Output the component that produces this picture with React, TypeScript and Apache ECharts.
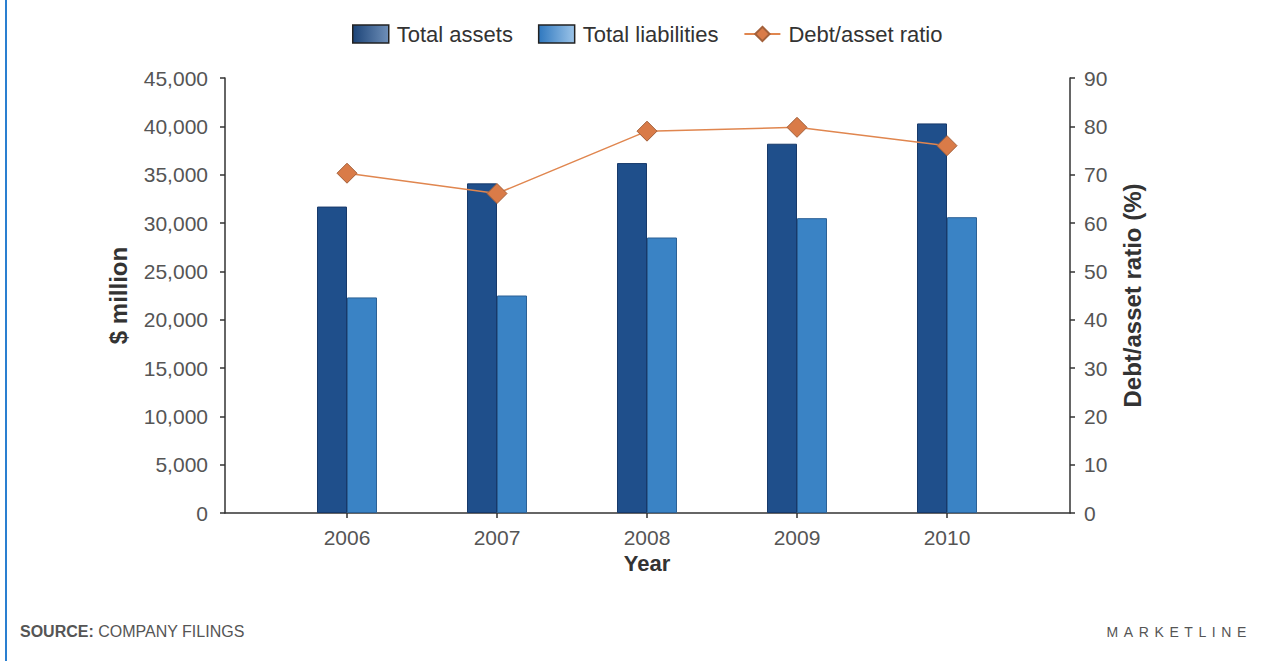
import React, { useEffect, useRef } from "react";
import * as echarts from "echarts";

// Chart data
const years = ["2006", "2007", "2008", "2009", "2010"];
const totalAssets = [31700, 34100, 36200, 38200, 40300];
const totalLiabilities = [22300, 22500, 28500, 30500, 30600];
const debtAssetRatio = [70.3, 66.1, 79.0, 79.8, 76.0];

// Axis scales
const leftMax = 45000;
const leftInterval = 5000;
const rightMax = 90;
const rightInterval = 10;

const FONT = "'Liberation Sans', Arial, Helvetica, sans-serif";
const AXIS_COLOR = "#333";
const LABEL_COLOR = "#555";

const ASSETS_COLOR = "#1f4f8b";
const LIAB_COLOR = "#3a83c5";
const LINE_COLOR = "#e0864f";

export default function App() {
  const ref = useRef<HTMLDivElement>(null);

  useEffect(() => {
    if (!ref.current) return;
    const chart = echarts.init(ref.current, undefined, { renderer: "svg" });

    const grad = (a: string, b: string) =>
      new echarts.graphic.LinearGradient(0, 0, 1, 0, [
        { offset: 0, color: a },
        { offset: 1, color: b },
      ]);

    const gridTop = 78;
    const gridBottom = 148;

    chart.setOption({
      animation: false,
      textStyle: { fontFamily: FONT },
      legend: {
        left: 347,
        top: 18,
        itemWidth: 36,
        itemHeight: 18,
        itemGap: 25,
        textStyle: {
          fontSize: 22,
          color: "#333",
          fontFamily: FONT,
          padding: [0, 0, 0, 3],
        },
        data: [
          {
            name: "Total assets",
            icon: "rect",
            itemStyle: {
              color: grad("#1c4478", "#6f8fb8"),
              borderColor: "#222",
              borderWidth: 1.5,
            },
          },
          {
            name: "Total liabilities",
            icon: "rect",
            itemStyle: {
              color: grad("#2f78bf", "#9cc4e8"),
              borderColor: "#222",
              borderWidth: 1.5,
            },
          },
          { name: "Debt/asset ratio" },
        ],
      },
      grid: [
        // frame grid: axis lines span the full plot width
        { left: 225, right: 191, top: gridTop, bottom: gridBottom },
        // data grid: categories are placed on a narrower band
        { left: 272, right: 239, top: gridTop, bottom: gridBottom },
      ],
      xAxis: [
        {
          gridIndex: 0,
          type: "category",
          data: years,
          axisLine: { lineStyle: { color: AXIS_COLOR, width: 1.5 } },
          axisTick: { show: false },
          axisLabel: { show: false },
        },
        {
          gridIndex: 1,
          type: "category",
          data: years,
          axisLine: { show: false },
          axisTick: {
            show: true,
            alignWithLabel: true,
            length: 5,
            lineStyle: { color: AXIS_COLOR, width: 1.5 },
          },
          axisLabel: {
            fontSize: 21,
            color: LABEL_COLOR,
            margin: 14,
            fontFamily: FONT,
          },
          name: "Year",
          nameLocation: "middle",
          nameGap: 34,
          nameTextStyle: {
            fontSize: 22,
            fontWeight: "bold",
            color: "#333",
            fontFamily: FONT,
          },
        },
      ],
      yAxis: [
        {
          gridIndex: 0,
          type: "value",
          position: "left",
          min: 0,
          max: leftMax,
          interval: leftInterval,
          axisLine: { show: true, lineStyle: { color: AXIS_COLOR, width: 1.5 } },
          axisTick: {
            show: true,
            length: 5,
            lineStyle: { color: AXIS_COLOR, width: 1.5 },
          },
          splitLine: { show: false },
          axisLabel: {
            fontSize: 21,
            color: LABEL_COLOR,
            margin: 17,
            fontFamily: FONT,
            formatter: (v: number) => v.toLocaleString("en-US"),
          },
          name: "$ million",
          nameLocation: "middle",
          nameRotate: 90,
          nameGap: 95,
          nameTextStyle: {
            fontSize: 24,
            fontWeight: "bold",
            color: "#333",
            fontFamily: FONT,
          },
        },
        {
          gridIndex: 0,
          type: "value",
          position: "right",
          min: 0,
          max: rightMax,
          interval: rightInterval,
          axisLine: { show: true, lineStyle: { color: AXIS_COLOR, width: 1.5 } },
          axisTick: {
            show: true,
            length: 5,
            lineStyle: { color: AXIS_COLOR, width: 1.5 },
          },
          splitLine: { show: false },
          axisLabel: {
            fontSize: 21,
            color: LABEL_COLOR,
            margin: 14,
            fontFamily: FONT,
          },
          name: "Debt/asset ratio (%)",
          nameLocation: "middle",
          nameRotate: 90,
          nameGap: 50,
          nameTextStyle: {
            fontSize: 24,
            fontWeight: "bold",
            color: "#333",
            fontFamily: FONT,
          },
        },
        {
          gridIndex: 1,
          type: "value",
          show: false,
          min: 0,
          max: leftMax,
          interval: leftInterval,
          splitLine: { show: false },
        },
        {
          gridIndex: 1,
          type: "value",
          show: false,
          min: 0,
          max: rightMax,
          interval: rightInterval,
          splitLine: { show: false },
        },
      ],
      series: [
        {
          name: "Total assets",
          type: "bar",
          xAxisIndex: 1,
          yAxisIndex: 2,
          data: totalAssets,
          barWidth: 30,
          barGap: "0%",
          itemStyle: {
            color: ASSETS_COLOR,
            borderColor: "#17396a",
            borderWidth: 1,
          },
        },
        {
          name: "Total liabilities",
          type: "bar",
          xAxisIndex: 1,
          yAxisIndex: 2,
          data: totalLiabilities,
          barWidth: 30,
          barGap: "0%",
          itemStyle: {
            color: LIAB_COLOR,
            borderColor: "#2b6196",
            borderWidth: 1,
          },
        },
        {
          name: "Debt/asset ratio",
          type: "line",
          xAxisIndex: 1,
          yAxisIndex: 3,
          data: debtAssetRatio,
          symbol: "diamond",
          symbolSize: 20,
          z: 5,
          lineStyle: { color: LINE_COLOR, width: 1.5 },
          itemStyle: {
            color: "#d97b48",
            borderColor: "#a3603a",
            borderWidth: 1,
          },
        },
      ],
    });

    return () => chart.dispose();
  }, []);

  return (
    <div
      style={{
        position: "absolute",
        left: 0,
        top: 0,
        width: 1261,
        height: 661,
        background: "#fff",
        overflow: "hidden",
      }}
    >
      <div
        style={{
          position: "absolute",
          left: 5,
          top: 0,
          width: 2,
          height: 661,
          background: "#2a7fd0",
        }}
      />
      <div ref={ref} style={{ position: "absolute", left: 0, top: 0, width: 1261, height: 661 }} />
      <div
        style={{
          position: "absolute",
          left: 20,
          top: 623,
          fontFamily: FONT,
          fontSize: 16,
          color: "#555",
          lineHeight: "18px",
          whiteSpace: "nowrap",
        }}
      >
        <b>SOURCE:</b> COMPANY FILINGS
      </div>
      <div
        style={{
          position: "absolute",
          right: 9,
          top: 623,
          fontFamily: FONT,
          fontSize: 14,
          letterSpacing: "5.6px",
          color: "#555",
          lineHeight: "18px",
          whiteSpace: "nowrap",
        }}
      >
        MARKETLINE
      </div>
    </div>
  );
}
